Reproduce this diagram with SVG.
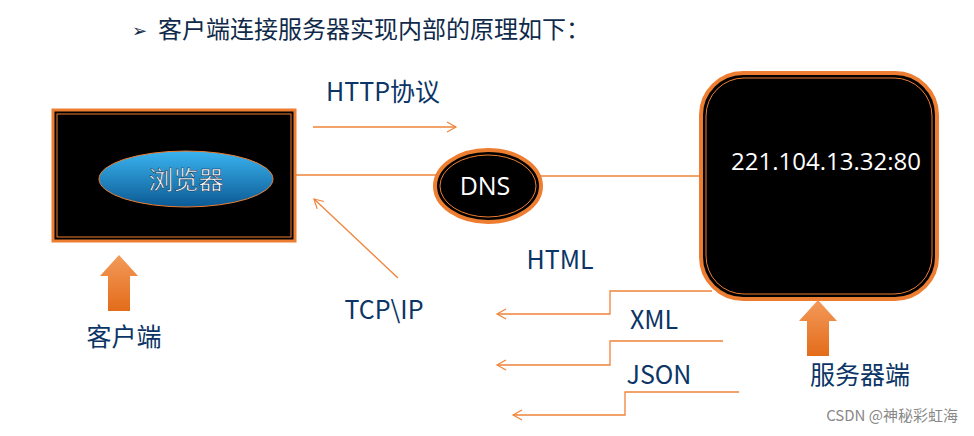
<svg xmlns="http://www.w3.org/2000/svg" width="974" height="436" viewBox="0 0 974 436">
<defs>
<style>
.t{font-family:"Noto Sans CJK SC","Open Sans",sans-serif;fill:#0b3566;font-size:25px}
.w{font-family:"Open Sans","Noto Sans CJK SC",sans-serif;fill:#fff}
.c{fill:none;stroke:#f0833a;stroke-width:1.3}
</style>
<marker id="a" markerWidth="12" markerHeight="12" refX="10" refY="6" orient="auto" markerUnits="userSpaceOnUse"><path d="M1,1 L10,6 L1,11" fill="none" stroke="#f0833a" stroke-width="1.2"/></marker>
<linearGradient id="g" x1="0" y1="0" x2="0" y2="1"><stop offset="0" stop-color="#3bb4f0"/><stop offset="1" stop-color="#0b5a94"/></linearGradient>
<linearGradient id="o" x1="0" y1="0" x2="0" y2="1"><stop offset="0" stop-color="#f39a5a"/><stop offset="1" stop-color="#e36c1a"/></linearGradient>
</defs>
<rect width="974" height="436" fill="#fff"/>
<g id="title"><text x="132" y="37" class="t" style="fill:#0f2a4a;font-size:18px">➢</text><text x="158" y="38" class="t" style="fill:#0f2a4a;font-size:24px">客户端连接服务器实现内部的原理如下：</text></g>
<g id="connectors">
<line class="c" x1="295" y1="175" x2="436" y2="175"/>
<line class="c" x1="541" y1="176" x2="700" y2="176"/>
<line class="c" x1="313" y1="127" x2="456" y2="127" marker-end="url(#a)"/>
<line class="c" x1="398" y1="278" x2="314" y2="199" marker-end="url(#a)"/>
<polyline class="c" points="712,291 610,291 610,314 497,314" marker-end="url(#a)"/>
<polyline class="c" points="723,341 610,341 610,365 497,365" marker-end="url(#a)"/>
<polyline class="c" points="739,392 625,392 625,415 513,415" marker-end="url(#a)"/>
</g>
<g id="client">
<rect x="53" y="110" width="242" height="131" fill="#000" stroke="#ed7d31" stroke-width="3"/>
<rect x="57" y="114" width="234" height="123" fill="none" stroke="#ed7d31" stroke-width="1"/>
</g>
<g id="browser">
<ellipse cx="186" cy="179" rx="87" ry="28" fill="url(#g)" stroke="#ed7d31"/>
<text x="186" y="189" text-anchor="middle" class="w" style="font-size:25px;stroke:#0a2a4a;stroke-width:0.5">浏览器</text>
</g>
<g id="dns">
<ellipse cx="488" cy="186" rx="53" ry="36" fill="#000" stroke="#ed7d31" stroke-width="4"/>
<ellipse cx="488" cy="186" rx="48" ry="31" fill="none" stroke="#ed7d31" stroke-width="1"/>
<text x="485" y="195" text-anchor="middle" class="w" style="font-size:25px">DNS</text>
</g>
<g id="server">
<rect x="701" y="73" width="236" height="226" rx="42" fill="#000" stroke="#ed7d31" stroke-width="4"/>
<rect x="706" y="78" width="226" height="216" rx="38" fill="none" stroke="#ed7d31" stroke-width="1"/>
<text x="826" y="170" text-anchor="middle" class="w" style="font-size:24px">221.104.13.32:80</text>
</g>
<g id="clientArrow"><polygon points="119,255 138,276 130,276 130,311 108,311 108,276 100,276" fill="url(#o)"/></g>
<g id="serverArrow"><polygon points="818,300 837,321 829,321 829,356 807,356 807,321 799,321" fill="url(#o)"/></g>
<g id="labels">
<text x="383" y="101" text-anchor="middle" class="t">HTTP协议</text>
<text x="384" y="319" text-anchor="middle" class="t">TCP\IP</text>
<text x="560" y="269" text-anchor="middle" class="t">HTML</text>
<text x="654" y="329" text-anchor="middle" class="t">XML</text>
<text x="659" y="384" text-anchor="middle" class="t">JSON</text>
<text x="124" y="346" text-anchor="middle" class="t">客户端</text>
<text x="860" y="384" text-anchor="middle" class="t">服务器端</text>
<text x="958" y="421" text-anchor="end" style="font-family:'Noto Sans CJK SC',sans-serif;font-size:15px;fill:#888">CSDN @神秘彩虹海</text>
</g>
</svg>
